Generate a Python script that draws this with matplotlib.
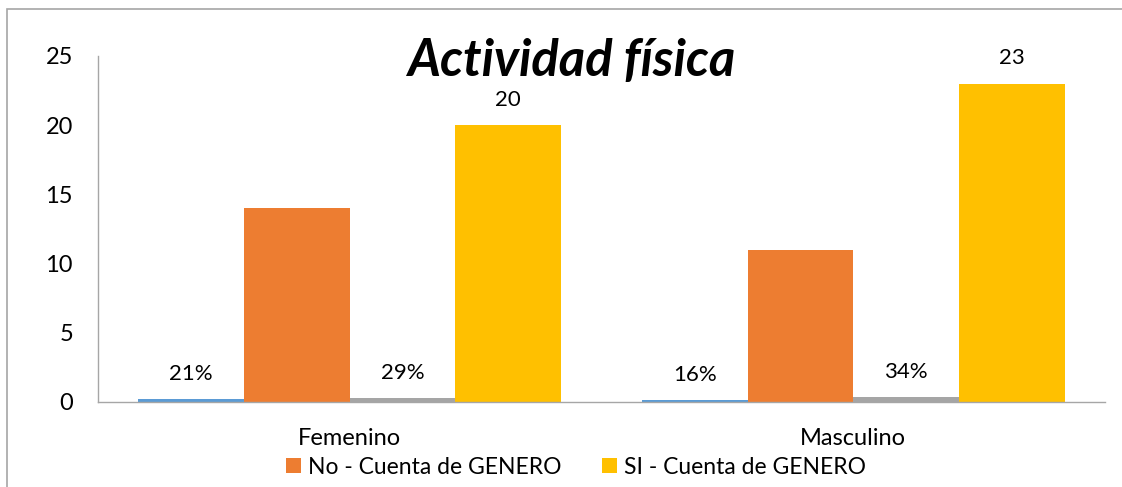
import matplotlib.pyplot as plt
from matplotlib.patches import Rectangle
import numpy as np

# --- DADOS ---
categorias = ["Femenino", "Masculino"]
pct_no = [0.21, 0.16]       # barra azul (porcentaje No)
cuenta_no = [14, 11]        # No - Cuenta de GENERO
pct_si = [0.29, 0.34]       # barra gris (porcentaje SI)
cuenta_si = [20, 23]        # SI - Cuenta de GENERO
titulo = "Actividad física"

FONTE = ["Lato", "DejaVu Sans"]
plt.rcParams["font.family"] = FONTE

fig = plt.figure(figsize=(11.22, 4.87), dpi=100)
ax = fig.add_axes([98 / 1122, 1 - 402 / 487, (1105 - 98) / 1122, (402 - 56) / 487])

x = np.arange(len(categorias))
w = 0.21
b1 = ax.bar(x - 1.5 * w, pct_no, w, color="#5B9BD5")
b2 = ax.bar(x - 0.5 * w, cuenta_no, w, color="#ED7D31", label="No - Cuenta de GENERO")
b3 = ax.bar(x + 0.5 * w, pct_si, w, color="#A5A5A5")
b4 = ax.bar(x + 1.5 * w, cuenta_si, w, color="#FFC000", label="SI - Cuenta de GENERO")

# etiquetas de datos
ax.bar_label(b1, labels=[f"{v:.0%}" for v in pct_no], padding=11, fontsize=16)
ax.bar_label(b3, labels=[f"{v:.0%}" for v in pct_si], padding=11, fontsize=16)
ax.bar_label(b4, labels=[str(v) for v in cuenta_si], padding=11, fontsize=16)

ax.set_xlim(-0.5, 1.5)
ax.set_ylim(0, 25)
ax.set_yticks([0, 5, 10, 15, 20, 25])
ax.set_xticks(x)
ax.set_xticklabels(categorias)
ax.tick_params(axis="both", length=0, labelsize=17)
ax.tick_params(axis="x", pad=19)
ax.tick_params(axis="y", pad=18)
for s in ["top", "right"]:
    ax.spines[s].set_visible(False)
for s in ["left", "bottom"]:
    ax.spines[s].set_color("#A6A6A6")
    ax.spines[s].set_linewidth(1.0)

fig.text(571 / 1122, 1 - 62 / 487, titulo, ha="center", va="center",
         fontsize=36.5, fontweight="bold", fontstyle="italic")

fig.legend(handles=[b2, b4], loc="center", bbox_to_anchor=(576 / 1122, 1 - 467 / 487),
           ncol=2, frameon=False, fontsize=16.5, handlelength=0.65, handleheight=0.65,
           handletextpad=0.3, columnspacing=1.8, borderpad=0)

# borde exterior (solo arriba e izquierda visibles)
fig.patches.append(Rectangle((7 / 1122, -0.05), 1.1, 1.05 - 9 / 487,
                             transform=fig.transFigure, fill=False,
                             edgecolor="#A6A6A6", linewidth=1.2))

plt.savefig("out.png", dpi=100)
